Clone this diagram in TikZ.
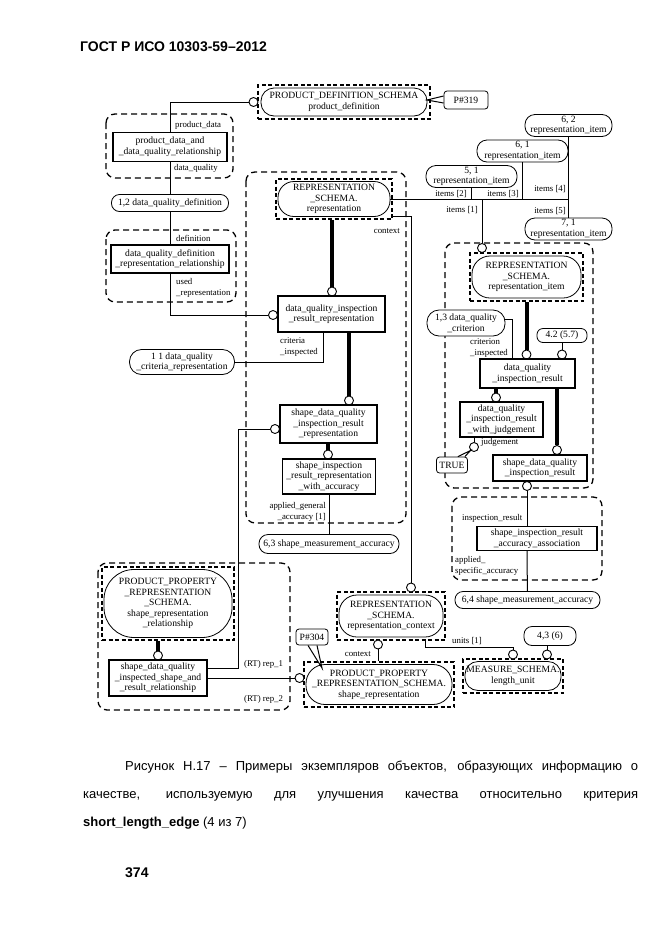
\documentclass[tikz,border=0pt]{standalone}
\usepackage{fontspec}
\usetikzlibrary{positioning,calc}
\newfontfamily\diafont{Liberation Serif}
\newfontfamily\capfont{Liberation Sans}
\newcommand{\dtext}{\diafont\fontsize{9.6}{10.6}\selectfont}
\newcommand{\ltext}{\diafont\fontsize{8.8}{11}\selectfont}

\begin{document}
\begin{tikzpicture}[
    x=1pt, y=-1pt,
    ent/.style={rectangle, draw=black, line width=1.2pt, fill=white, align=center, font=\dtext, inner sep=0pt},
    stad/.style={rectangle, rounded corners=#1, draw=black, line width=0.8pt, fill=white, align=center, font=\dtext, inner sep=0pt},
    stad/.default=8,
    schf/.style={rectangle, draw=black, line width=1.1pt, dash pattern=on 4pt off 2.5pt, inner sep=0pt},
    grp/.style={draw=black, line width=1.3pt, dash pattern=on 6pt off 4pt, rounded corners=9pt},
    ring/.style={circle, draw=black, line width=0.9pt, fill=white, inner sep=0pt, minimum size=9pt},
    lbl/.style={font=\ltext, inner sep=0pt, align=left},
    call/.style={rectangle, rounded corners=3pt, draw=black, line width=0.8pt, fill=white, font=\dtext, inner sep=0pt},
    rel/.style={line width=1pt},
    thk/.style={line width=4pt},
    hdr/.style={font=\capfont\fontsize{14}{16}\selectfont\bfseries, inner sep=0pt},
    captxt/.style={font=\capfont\fontsize{13}{15}\selectfont, inner sep=0pt}
]
\fill[white] (0,0) rectangle (661,935);
\useasboundingbox (0,0) rectangle (661,935);

\node[hdr, anchor=base west] (title) at (80,51) {ГОСТ Р ИСО 10303-59–2012};

% groups
\draw[grp] (106,114) rectangle (233,178);
\draw[grp] (106,230) rectangle (236,302);
\draw[grp] (246,172) rectangle (406,523);
\draw[grp] (445,243) rectangle (593,488);
\draw[grp] (452,497) rectangle (602,580);
\draw[grp] (98,563) rectangle (290,710);

\node[schf, minimum width=172, minimum height=34] (pdF) at (344,102) {};
\node[stad=13, minimum width=166, minimum height=28] (pdS) at (344,102) {PRODUCT\_DEFINITION\_SCHEMA\\product\_definition};
\node[ring] (cPD) at (253.5,102) {};
\node[call, minimum width=44, minimum height=18] (p319) at (466,100) {P\#319};
\coordinate (p319tip) at (427,100);

\node[ent, minimum width=114, minimum height=29] (pdqRel) at (170,147) {product\_data\_and\\\_data\_quality\_relationship};
\node[lbl, anchor=west] (lPd) at (175,125) {product\_data};
\node[lbl, anchor=west] (lDq) at (174,168) {data\_quality};
\node[stad, minimum width=117, minimum height=17] (dqDef) at (170,203) {1,2 data\_quality\_definition};
\node[ent, minimum width=118, minimum height=28] (dqdrRel) at (170,259) {data\_quality\_definition\\\_representation\_relationship};
\node[lbl, anchor=west] (lDef) at (176,238) {definition};
\node[lbl, anchor=west] (lUsed) at (176,288) {used\\\_representation};

\node[schf, minimum width=116, minimum height=40] (repF) at (334,199) {};
\node[stad=16, minimum width=112, minimum height=35] (repS) at (334,199) {REPRESENTATION\\\_SCHEMA.\\representation};
\node[lbl, anchor=east] (lCtx1) at (400,231) {context};
\node[ring] (c2) at (332,291.5) {};
\node[ent, minimum width=107, minimum height=36] (dqirrBox) at (331.5,314) {data\_quality\_inspection\\\_result\_representation};
\node[ring] (c3) at (273,315) {};
\node[lbl, anchor=west] (lCrit) at (280,347) {criteria\\\_inspected};
\node[stad=12, minimum width=105, minimum height=25] (dqcr) at (182,362) {1 1 data\_quality\\\_criteria\_representation};
\node[ring] (c4) at (349,400.5) {};
\node[ent, minimum width=97, minimum height=38] (sdqirrBox) at (328.5,424) {shape\_data\_quality\\\_inspection\_result\\\_representation};
\node[ring] (c5) at (275,429) {};
\node[ring] (c6) at (328,454.5) {};
\node[ent, minimum width=93, minimum height=35] (sirrwaBox) at (329,476.5) {shape\_inspection\\\_result\_representation\\\_with\_accuracy};
\node[lbl, anchor=east, align=right] (lApg) at (326,512) {applied\_general\\\_accuracy [1]};
\node[stad=9, minimum width=140, minimum height=19] (msa63) at (329,544) {6,3 shape\_measurement\_accuracy};

\node[stad=10, minimum width=91, minimum height=22] (s51) at (471.5,176.5) {5, 1\\representation\_item};
\node[stad=10, minimum width=91, minimum height=22] (s61) at (522.5,151) {6, 1\\representation\_item};
\node[stad=10, minimum width=87, minimum height=22] (s62) at (568.5,125.5) {6, 2\\representation\_item};
\node[stad=10, minimum width=87, minimum height=22] (s71) at (568.5,229) {7, 1\\representation\_item};
\node[lbl, anchor=east] (lIt2) at (467,194) {items [2]};
\node[lbl, anchor=east] (lIt3) at (519,194) {items [3]};
\node[lbl, anchor=east] (lIt4) at (566,189) {items [4]};
\node[lbl, anchor=east] (lIt5) at (566,211) {items [5]};
\node[lbl, anchor=east] (lIt1) at (478,210) {items [1]};

\node[ring] (c8) at (482,248) {};
\node[schf, minimum width=113, minimum height=48] (riF) at (526.5,277) {};
\node[stad=18, minimum width=109, minimum height=42] (riS) at (526.5,277) {REPRESENTATION\\\_SCHEMA.\\representation\_item};
\node[stad=12, minimum width=78, minimum height=26] (dqc) at (466,323) {1,3 data\_quality\\\_criterion};
\node[lbl, anchor=west] (lCrn) at (470,348) {criterion\\\_inspected};
\node[stad=6, minimum width=50, minimum height=14] (s42) at (562,335.5) {4.2 (5.7)};
\node[ring] (c9) at (526.5,354.5) {};
\node[ring] (c10) at (562,354.5) {};
\node[ent, minimum width=95, minimum height=29] (dqirBox) at (527.5,373.5) {data\_quality\\\_inspection\_result};
\node[ring] (c11) at (496,397.5) {};
\node[ring] (c12) at (557,450) {};
\node[ent, minimum width=83, minimum height=35] (dqirwjBox) at (501.5,419.5) {data\_quality\\\_inspection\_result\\\_with\_judgement};
\node[ent, minimum width=94, minimum height=26] (sdqirBox) at (540,468) {shape\_data\_quality\\\_inspection\_result};
\node[ring] (c13) at (474,447) {};
\node[lbl, anchor=west] (lJdg) at (481,442) {judgement};
\node[call, minimum width=31, minimum height=16] (pTrue) at (452,465) {TRUE};
\node[ring] (c14) at (527,486) {};

\node[ent, minimum width=120, minimum height=24] (siraaBox) at (537,538.5) {shape\_inspection\_result\\\_accuracy\_association};
\node[lbl, anchor=west] (lIr) at (462,518) {inspection\_result};
\node[lbl, anchor=west] (lAsa) at (455,566) {applied\_\\specific\_accuracy};
\node[stad, minimum width=145, minimum height=17] (msa64) at (527.5,600) {6,4 shape\_measurement\_accuracy};

\node[schf, minimum width=132, minimum height=73] (srrF) at (168,603.5) {};
\node[stad=30, minimum width=128, minimum height=68] (srrS) at (168,603.5) {PRODUCT\_PROPERTY\\\_REPRESENTATION\\\_SCHEMA.\\shape\_representation\\\_relationship};
\node[ring] (c15) at (158,655.5) {};
\node[ent, minimum width=98, minimum height=36] (sdqisrrBox) at (158,678) {shape\_data\_quality\\\_inspected\_shape\_and\\\_result\_relationship};
\coordinate (r1) at (238,429);
\node[lbl, anchor=west] (lRep1) at (244,664) {(RT) rep\_1};
\node[lbl, anchor=west] (lRep2) at (244,699) {(RT) rep\_2};

\node[schf, minimum width=150, minimum height=45] (srF) at (379,684.5) {};
\node[stad=19, minimum width=146, minimum height=40] (srS) at (379,684.5) {PRODUCT\_PROPERTY\\\_REPRESENTATION\_SCHEMA.\\shape\_representation};
\node[ring] (c16) at (299.5,678) {};
\node[schf, minimum width=108, minimum height=48] (rcF) at (391,616) {};
\node[stad=18, minimum width=104, minimum height=42] (rcS) at (391,616) {REPRESENTATION\\\_SCHEMA.\\representation\_context};
\node[ring] (c7) at (411,587.5) {};
\node[ring] (c17) at (378,644.5) {};
\node[lbl, anchor=east] (lCtx2) at (371,654) {context};
\node[lbl, anchor=west] (lUnits) at (452,641) {units [1]};
\node[schf, minimum width=100, minimum height=34] (msF) at (513,676) {};
\node[stad=13, minimum width=96, minimum height=29] (msS) at (513,676) {MEASURE\_SCHEMA.\\length\_unit};
\node[stad, minimum width=52, minimum height=19] (s43) at (550,636) {4,3 (6)};
\node[ring] (c18) at (513,654.5) {};
\node[ring] (c19) at (547,654.5) {};
\node[call, minimum width=32, minimum height=16] (p304) at (312,637) {P\#304};
\coordinate (p304tip) at (322,668);

\draw[rel] ([yshift=4]p319.west) -- (p319tip) -- ([yshift=-3]p319.west);
\draw[rel] (pdqRel.north) |- (cPD);
\draw[rel] (pdqRel) -- (dqDef);
\draw[rel] (dqDef) -- (dqdrRel);
\draw[rel] (dqdrRel.south) |- (c3);
\draw[thk] (c2) -- (c2 |- repF.south);
\draw[rel] ([xshift=-8.5]dqirrBox.south) |- (dqcr);
\draw[thk] (c4) -- (c4 |- dqirrBox.south);
\draw[thk] (c6) -- (c6 |- sdqirrBox.south);
\draw[rel] (sirrwaBox) -- (msa63);
\draw[rel] (repS.east) -- (repS.east -| s62);
\draw[rel] (s51) -- (s51 |- repS.east);
\draw[rel] (s61) -- (s61 |- repS.east);
\draw[rel] (s62) -- (s71);
\draw[rel] (c8) -- (c8 |- repS.east);
\draw[rel] ([yshift=3]repF.south east) -| (c7);
\draw[thk] (c9) -- (c9 |- riF.south);
\draw[rel] ([yshift=4]dqc.east) -| ([xshift=-15.5]dqirBox.north);
\draw[rel] (c10) -- (s42);
\draw[thk] (c11) -- (c11 |- dqirBox.south);
\draw[thk] (c12) -- (c12 |- dqirBox.south);
\draw[rel] (c13) -- (c13 |- dqirwjBox.south);
\draw[rel] ([xshift=-10]pTrue.north east) -- (c13.south west) -- ([xshift=-3]pTrue.north east);
\draw[rel] (c14) -- (c14 |- sdqirBox.south);
\draw[rel] (c14) -- (c14 |- siraaBox.north);
\draw[rel] (siraaBox.south -| c14) -- (msa64);
\draw[thk] (c15) -- (c15 |- srrF.south);
\draw[rel] ([yshift=10]sdqisrrBox.east) -| (r1) -- (c5);
\draw[rel] (sdqisrrBox.east) -- (c16);
\draw[rel] (c17) -- (c17 |- srF.north);
\draw[rel] ([xshift=34]rcF.south) -- ++(0,7) -| (c18);
\draw[rel] (c19) -- (c19 |- s43.south);
\draw[rel] ([xshift=-4]p304.south) -- (p304tip) -- ([xshift=5]p304.south);

\node[captxt, anchor=base west] (cap1) at (125,770) {\makebox[513pt][s]{Рисунок Н.17 – Примеры экземпляров объектов, образующих информацию о}};
\node[captxt, anchor=base west] (cap2) at (83,798) {\makebox[555pt][s]{качестве, используемую для улучшения качества относительно критерия}};
\node[captxt, anchor=base west] (cap3) at (83,826) {\textbf{short\_length\_edge} (4 из 7)};
\node[hdr, anchor=base west] (pageNo) at (125,877) {374};
\end{tikzpicture}
\end{document}
